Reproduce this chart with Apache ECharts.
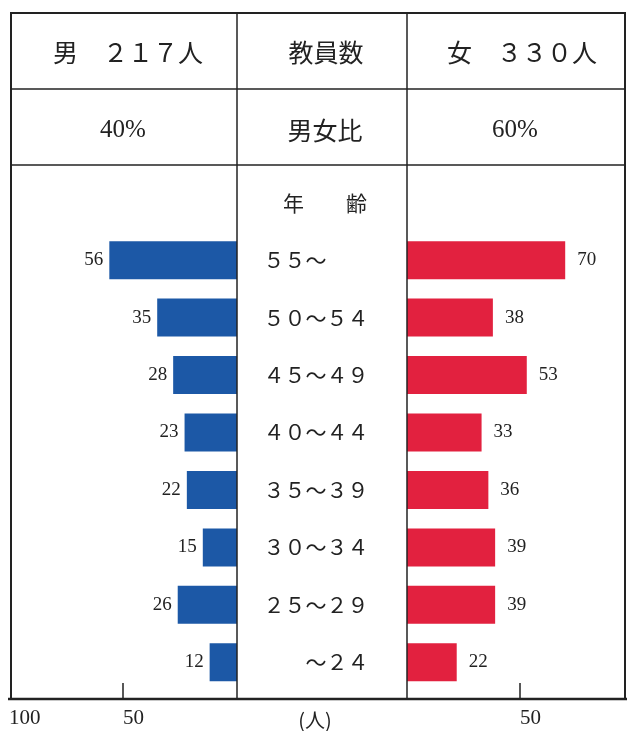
<!DOCTYPE html>
<html><head><meta charset="utf-8">
<script src="https://cdn.jsdelivr.net/npm/echarts@6/dist/echarts.min.js"></script>
<style>html,body{margin:0;padding:0;background:#fff}#c{width:627px;height:731px}</style>
</head><body><div id="c"></div>
<script>
// ---- data ----
const ageHeader = '年　　齢';
const ageGroups = ['５５～　　','５０～５４','４５～４９','４０～４４','３５～３９','３０～３４','２５～２９','　　～２４'];
const maleCounts = [56, 35, 28, 23, 22, 15, 26, 12];
const femaleCounts = [70, 38, 53, 33, 36, 39, 39, 22];
const maleTotalText = '男　２１７人';
const femaleTotalText = '女　３３０人';
const staffLabel = '教員数';
const ratioLabel = '男女比';
const malePct = '40%';
const femalePct = '60%';
const axisLabelValues = [50, 100];
const axisTickValues = [50];
const unitLabel = '(人)';

// ---- chart ----
const chart = echarts.init(document.getElementById('c'));
const serif = '"Liberation Serif","Noto Sans CJK JP",serif';
const jp = '"Noto Sans CJK JP",sans-serif';
const ink = '#222';
const categories = [ageHeader, ...ageGroups];

function xAxisCfg(gi, inv) {
  return {
    gridIndex: gi, type: 'value', inverse: inv, min: 0, max: 100, interval: 50, offset: 8,
    splitLine: { show: false }, axisLine: { show: false },
    axisTick: { show: true, inside: true, length: 16, customValues: axisTickValues, lineStyle: { color: ink, width: 1.5 } },
    axisLabel: { customValues: axisLabelValues, align: 'left', margin: 9, fontFamily: serif, fontSize: 21, color: ink }
  };
}
function line(x1, y1, x2, y2, w) {
  return { type: 'line', z: 100, shape: { x1, y1, x2, y2 }, style: { stroke: ink, lineWidth: w } };
}
function txt(text, x, y, font) {
  return { type: 'text', z: 100, style: { text, x, y, font, fill: ink, textAlign: 'center', textVerticalAlign: 'middle' } };
}

const option = {
  animation: false,
  grid: [
    { left: 9, right: 390, top: 174, bottom: 40, outerBoundsMode: 'none', containLabel: false },
    { left: 407, right: -6, top: 174, bottom: 40, outerBoundsMode: 'none', containLabel: false }
  ],
  xAxis: [xAxisCfg(0, true), xAxisCfg(1, false)],
  yAxis: [
    {
      gridIndex: 0, type: 'category', data: categories, inverse: true, position: 'right',
      axisLine: { show: false }, axisTick: { show: false },
      axisLabel: {
        margin: 79, align: 'center', fontFamily: jp, fontSize: 21, color: ink,
        formatter: (v, i) => i === 0 ? '{h|' + v + '}' : v,
        rich: { h: { fontFamily: jp, fontSize: 21, color: ink, padding: [0, 0, 0, 18] } }
      }
    },
    { gridIndex: 1, type: 'category', data: categories, inverse: true, show: false }
  ],
  series: [
    {
      type: 'bar', xAxisIndex: 0, yAxisIndex: 0, data: ['-', ...maleCounts], barWidth: 38,
      itemStyle: { color: '#1c58a6' },
      label: { show: true, position: 'left', distance: 6, fontFamily: serif, fontSize: 19, color: ink }
    },
    {
      type: 'bar', xAxisIndex: 1, yAxisIndex: 1, data: ['-', ...femaleCounts], barWidth: 38,
      itemStyle: { color: '#e2213f' },
      label: { show: true, position: 'right', distance: 12, fontFamily: serif, fontSize: 19, color: ink }
    }
  ],
  graphic: [
    { type: 'rect', z: 100, shape: { x: 11, y: 13, width: 614, height: 686 }, style: { fill: null, stroke: ink, lineWidth: 2 } },
    line(11, 89, 625, 89, 1.5),
    line(11, 165, 625, 165, 1.5),
    line(237, 13, 237, 699, 1.5),
    line(407, 13, 407, 699, 1.5),
    line(8, 699, 627, 699, 2.5),
    txt(maleTotalText, 128, 52, '25px ' + jp),
    txt(staffLabel, 326, 52, '25px ' + jp),
    txt(femaleTotalText, 522, 52, '25px ' + jp),
    txt(malePct, 123, 130, '25px ' + serif),
    txt(ratioLabel, 325, 130, '25px ' + jp),
    txt(femalePct, 515, 130, '25px ' + serif),
    txt(unitLabel, 315, 720, '20px ' + jp)
  ]
};
chart.setOption(option);
</script>
</body></html>
